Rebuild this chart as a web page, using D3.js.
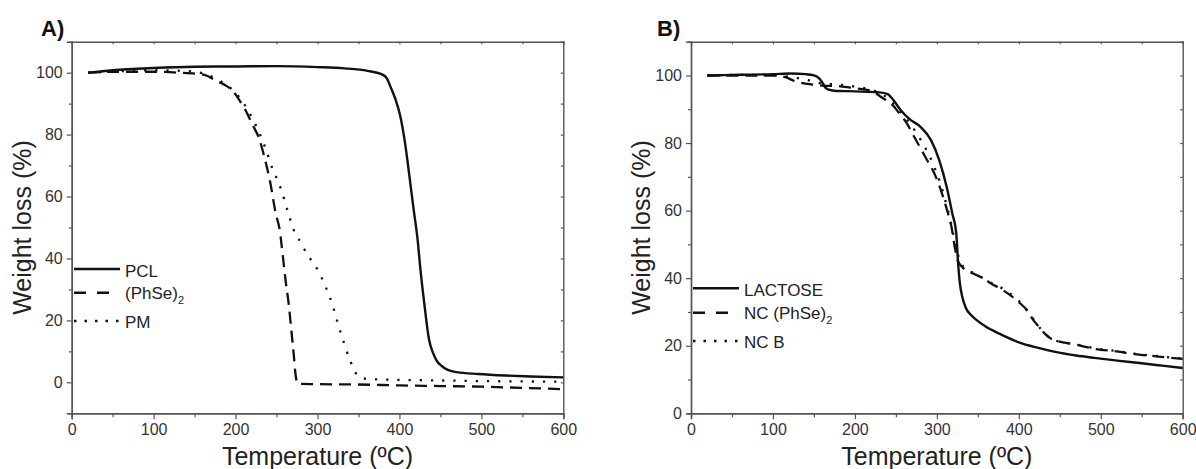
<!DOCTYPE html>
<html>
<head>
<meta charset="utf-8">
<script src="https://cdn.jsdelivr.net/npm/d3@7"></script>
<style>
  body { margin: 0; background: #fff; }
  svg { display: block; font-family: "Liberation Sans", Arial, sans-serif; }
</style>
</head>
<body>
<div id="chart"></div>
<script>
// ---- panel A data (TGA curves) ----
var pclTemp   = [20, 50, 100, 150, 200, 250, 300, 333, 361, 380, 385, 389, 395, 401, 407, 412, 417, 422, 426, 431, 436, 441, 445, 452, 459, 470, 496, 530, 560, 600];
var pclWeight = [100, 100.8, 101.5, 101.9, 102, 102.1, 101.8, 101.4, 100.6, 99.3, 98, 95.5, 91.5, 86, 77, 67, 56.5, 46.5, 35.5, 24, 14, 9.5, 7.2, 5.2, 4, 3.3, 2.7, 2.2, 1.9, 1.6];

var phseTemp   = [20, 60, 100, 130, 155, 165, 175, 185, 193, 200, 205, 211, 216, 222, 228, 235, 242, 249, 254, 258, 261, 265, 268, 271, 273, 276, 300, 350, 400, 450, 500, 550, 600];
var phseWeight = [100, 100.3, 100.3, 100, 99.6, 99, 97.6, 96.3, 95, 93, 91, 88.5, 85.8, 82.5, 79.3, 72.9, 65, 54.6, 49, 40, 33, 25, 17, 9, 3, -0.5, -0.6, -0.7, -1, -1.2, -1.4, -1.8, -2.2];

var pmTemp   = [20, 60, 100, 140, 160, 175, 190, 200, 210, 220, 230, 238, 245, 250, 256, 264, 272, 280, 287, 295, 301, 308, 315, 320, 326, 332, 338, 344, 350, 361, 400, 450, 500, 550, 600];
var pmWeight = [100, 100.5, 100.8, 100.5, 99.8, 98.2, 95.8, 93.5, 90, 85.5, 80, 74.5, 69, 66, 62, 55, 48.5, 45, 41.5, 38.5, 36, 32, 27.5, 23.5, 18, 13, 8.3, 4.5, 1.8, 1.1, 0.8, 0.6, 0.4, 0.3, 0.2];

// ---- panel B data ----
var lacTemp   = [20, 60, 100, 122, 140, 150, 156, 160, 164, 168, 175, 200, 230, 240, 247, 256, 266, 280, 293, 303, 312, 319, 323.6, 326, 328.2, 331, 335, 342, 349, 360, 377, 400, 425, 446, 470, 492, 520, 550, 575, 600];
var lacWeight = [100, 100.2, 100.4, 100.6, 100.4, 100, 99.2, 98, 96.4, 95.8, 95.5, 95.3, 95, 94.5, 92.7, 89.7, 87.2, 84.8, 80.8, 74.9, 67, 59, 53.5, 44.2, 38.3, 34.5, 31.4, 29, 27.5, 25.6, 23.5, 21, 19.3, 18.1, 17.1, 16.4, 15.6, 14.8, 14.1, 13.4];

var ncpTemp   = [20, 60, 100, 115, 127, 148, 161, 182, 200, 220, 231, 240, 247, 255, 263, 272, 280, 288, 296, 305, 312, 318, 322, 326, 331, 345, 354, 365, 381, 400, 410, 418, 425, 432, 440, 446, 470, 492, 520, 539, 570, 600];
var ncpWeight = [100, 100, 100, 99.5, 98.3, 97.3, 97, 96.8, 96.2, 95.5, 93.8, 92.4, 91, 88.5, 86, 82, 78.5, 75, 71.5, 66, 60.5, 55, 49, 45, 43.3, 41.3, 40.3, 38.6, 36.4, 32.9, 30.5, 27.5, 25.5, 23.5, 22, 21.5, 20.3, 19.1, 18.3, 17.6, 16.8, 16.1];

var ncbTemp   = [20, 60, 100, 120, 140, 160, 180, 200, 220, 235, 245, 255, 265, 275, 285, 295, 305, 312, 318, 323, 327, 332, 345, 355, 365, 381, 400, 410, 418, 426, 433, 441, 448, 470, 492, 520, 540, 570, 600];
var ncbWeight = [100, 100.2, 100.1, 99.6, 98.8, 97.6, 97.3, 96.7, 95.8, 94.2, 92.2, 89.5, 86.5, 83, 79, 74, 67.5, 61.5, 55.5, 49.5, 46, 43.5, 41.5, 40.2, 38.8, 36.8, 33.3, 30.5, 27.8, 25.2, 23.3, 21.8, 21.3, 20.4, 19.3, 18.4, 17.7, 16.9, 16.2];

// ---- ticks ----
var xMajor = [0, 100, 200, 300, 400, 500, 600];
var xMinor = [50, 150, 250, 350, 450, 550];
var yMajor = [0, 20, 40, 60, 80, 100];
var yMinor = [10, 30, 50, 70, 90];

var xLabel = "Temperature (ºC)";
var yLabel = "Weight loss (%)";

var W = 1196, H = 469;
var plotTop = 41.7, plotBottom = 413.3;

var svg = d3.select("#chart").append("svg")
    .attr("width", W)
    .attr("height", H);

var styles = {
  solid:  { dash: null,      legendDash: null },
  dashed: { dash: "12,7",    legendDash: "12,11" },
  dotted: { dash: "2.2,9",   legendDash: "2.5,8" }
};

function zip(t, w) {
  return t.map(function(d, i) { return [d, w[i]]; });
}

var panels = [
  {
    tag: "A)", tagX: 41, x0: 71.7, x1: 563.3, yDomain: [-10, 110],
    labelX: 31,
    series: [
      { name: "PCL", sub: null, data: zip(pclTemp, pclWeight), style: "solid" },
      { name: "(PhSe)", sub: "2", data: zip(phseTemp, phseWeight), style: "dashed" },
      { name: "PM", sub: null, data: zip(pmTemp, pmWeight), style: "dotted" }
    ],
    legend: { x: 74, ys: [269, 292.7, 321], textYs: [277, 299, 328] }
  },
  {
    tag: "B)", tagX: 657, x0: 691, x1: 1182.7, yDomain: [0, 110],
    labelX: 650,
    series: [
      { name: "LACTOSE", sub: null, data: zip(lacTemp, lacWeight), style: "solid" },
      { name: "NC (PhSe)", sub: "2", data: zip(ncpTemp, ncpWeight), style: "dashed" },
      { name: "NC B", sub: null, data: zip(ncbTemp, ncbWeight), style: "dotted" }
    ],
    legend: { x: 693, ys: [288.3, 312.7, 341], textYs: [296, 318.5, 348] }
  }
];

panels.forEach(drawPanel);

function drawPanel(p) {
  var x = d3.scaleLinear().domain([0, 600]).range([p.x0, p.x1]);
  var y = d3.scaleLinear().domain(p.yDomain).range([plotBottom, plotTop]);
  var g = svg.append("g");

  // frame ticks: bottom + left outward, top + right inward
  g.append("g").attr("transform", "translate(0," + plotBottom + ")")
    .call(d3.axisBottom(x).tickValues(xMajor).tickSize(6).tickPadding(4).tickFormat(d3.format("d")));
  g.append("g").attr("transform", "translate(0," + plotBottom + ")")
    .call(d3.axisBottom(x).tickValues(xMinor).tickSize(4).tickFormat(""));
  g.append("g").attr("transform", "translate(" + p.x0 + ",0)")
    .call(d3.axisLeft(y).tickValues(yMajor).tickSize(5).tickPadding(4).tickFormat(d3.format("d")));
  g.append("g").attr("transform", "translate(" + p.x0 + ",0)")
    .call(d3.axisLeft(y).tickValues(yMinor).tickSize(3).tickFormat(""));
  g.append("g").attr("transform", "translate(0," + plotTop + ")")
    .call(d3.axisTop(x).tickValues(xMajor.concat(xMinor)).tickSize(-2.5).tickFormat(""));
  g.append("g").attr("transform", "translate(" + p.x1 + ",0)")
    .call(d3.axisRight(y).tickValues(yMajor.concat(yMinor)).tickSize(-2.5).tickFormat(""));

  g.selectAll(".domain").attr("stroke", "#555").attr("stroke-width", 1.4);
  g.selectAll(".tick line").attr("stroke", "#555").attr("stroke-width", 1.2);
  g.selectAll(".tick text")
    .attr("fill", "#333")
    .attr("font-family", "Liberation Sans, Arial, sans-serif")
    .attr("font-size", 16);

  // curves
  var line = d3.line()
    .x(function(d) { return x(d[0]); })
    .y(function(d) { return y(d[1]); })
    .curve(d3.curveMonotoneX);

  p.series.forEach(function(s) {
    g.append("path")
      .datum(s.data)
      .attr("fill", "none")
      .attr("stroke", "#111")
      .attr("stroke-width", s.style === "solid" ? 2.4 : 2.3)
      .attr("stroke-dasharray", styles[s.style].dash)
      .attr("d", line);
  });

  // legend
  p.series.forEach(function(s, i) {
    g.append("line")
      .attr("x1", p.legend.x).attr("x2", p.legend.x + 46)
      .attr("y1", p.legend.ys[i]).attr("y2", p.legend.ys[i])
      .attr("stroke", "#111")
      .attr("stroke-width", 2.6)
      .attr("stroke-dasharray", styles[s.style].legendDash);
    var t = g.append("text")
      .attr("x", p.legend.x + 51)
      .attr("y", p.legend.textYs[i])
      .attr("fill", "#222")
      .style("font-size", "17px")
      .text(s.name);
    if (s.sub) {
      t.append("tspan").attr("dy", 5).style("font-size", "11px").text(s.sub);
    }
  });

  // titles
  g.append("text")
    .attr("x", p.tagX).attr("y", 36)
    .style("font-size", "22px").style("font-weight", "bold")
    .attr("fill", "#111")
    .text(p.tag);

  g.append("text")
    .attr("x", (p.x0 + p.x1) / 2).attr("y", 465)
    .attr("text-anchor", "middle")
    .attr("fill", "#222")
    .style("font-size", "25px")
    .text(xLabel);

  g.append("text")
    .attr("transform", "translate(" + p.labelX + "," + ((plotTop + plotBottom) / 2) + ") rotate(-90)")
    .attr("text-anchor", "middle")
    .attr("fill", "#222")
    .style("font-size", "25px")
    .text(yLabel);
}
</script>
</body>
</html>
